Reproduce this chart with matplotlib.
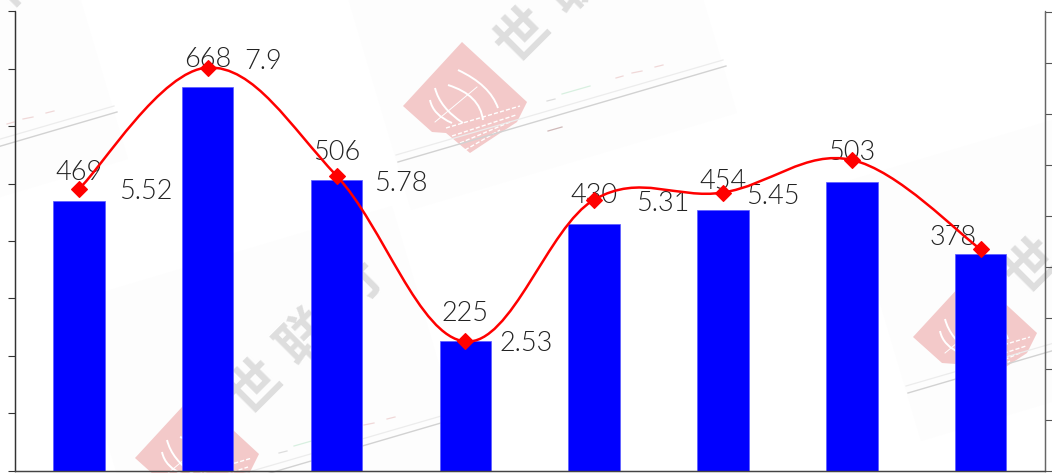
import numpy as np
import matplotlib
matplotlib.use("Agg")
import matplotlib.pyplot as plt
from matplotlib.path import Path
from matplotlib.patches import PathPatch, Polygon

plt.rcParams['font.family'] = ['Noto Sans CJK SC', 'DejaVu Sans']
LABEL_FONT = ['Lato', 'DejaVu Sans']

# values
bar_values = [469, 668, 506, 225, 430, 454, 503, 378]
line_values = [5.52, 7.9, 5.78, 2.53, 5.31, 5.45, 6.09, 4.34]
line_labels = ['5.52', '7.9', '5.78', '2.53', '5.31', '5.45', None, None]

# label offsets in pixels
bar_label_dx = [0, 0, 0, 0, 0, 0, 0, -27]
bar_label_dy = [29, 28, 28, 28, 28, 29, 29, 16]
line_label_dx = [67, 55, 64, 61, 69, 50, 0, 0]
line_label_dy = [-3, 6, -8, -2, -4, -4, 0, 0]

TEXT = '#222222'


def smooth_path(xs, ys, k=0.18):
    # bezier through the points, tangent taken from the neighbours
    xs = np.asarray(xs, float)
    ys = np.asarray(ys, float)
    n = len(xs)
    verts = [(xs[0], ys[0])]
    codes = [Path.MOVETO]
    for i in range(n - 1):
        a = max(i - 1, 0)
        b = min(i + 2, n - 1)
        c1 = (xs[i] + k * (xs[i + 1] - xs[a]), ys[i] + k * (ys[i + 1] - ys[a]))
        c2 = (xs[i + 1] - k * (xs[b] - xs[i]), ys[i + 1] - k * (ys[b] - ys[i]))
        verts += [c1, c2, (xs[i + 1], ys[i + 1])]
        codes += [Path.CURVE4] * 3
    return Path(verts, codes)


def watermark(bg, dx, dy):
    # one rotated logo tile, in pixels of the image
    def p(pts):
        return [(x + dx, y + dy) for x, y in pts]

    bg.add_patch(Polygon(p([(737, 113), (411, 210), (334, -49), (660, -146)]),
                         fc='#fdfdfd', ec='none', zorder=1))
    bg.add_patch(Polygon(p([(462, 42), (527, 102), (517, 122), (470, 153),
                            (446, 133), (432, 132), (403, 106)]),
                         fc='#f3c9c9', ec='none', zorder=2))
    # globe in the logo
    for a0, c, a1 in [((458, 70), (490, 85), (498, 108)), ((448, 85), (480, 95), (483, 120)),
                      ((435, 88), (440, 108), (463, 123)), ((430, 100), (433, 115), (452, 123))]:
        arc = Path(p([a0, c, a1]), [Path.MOVETO, Path.CURVE3, Path.CURVE3])
        bg.add_patch(PathPatch(arc, fc='none', ec='white', lw=1.4, zorder=3))
    bg.plot([435 + dx, 477 + dx], [122 + dy, 87 + dy], color='white', lw=0.7, zorder=3)
    # torn part of the logo
    for x0, y0, x1, y1 in [(446, 128, 520, 106), (452, 136, 516, 115), (460, 143, 510, 122),
                           (465, 150, 500, 130)]:
        bg.plot([x0 + dx, x1 + dx], [y0 + dy, y1 + dy], color='white', lw=1.0,
                ls=(0, (3, 1.5)), zorder=3)
    bg.plot([396 + dx, 723 + dx], [155 + dy, 60 + dy], color='#ececec', lw=0.9, zorder=4)
    bg.plot([398 + dx, 726 + dx], [162 + dy, 66 + dy], color='#d2d2d2', lw=1.0, zorder=4)
    for x0, y0, x1, y1, c in [(547, 101, 555, 99, '#dddddd'), (562, 94, 590, 86, '#d8f0e0'),
                              (616, 78, 623, 76, '#f0d8d8'), (632, 73, 642, 71, '#f0d8d8'),
                              (655, 67, 663, 65, '#f0d8d8'), (548, 131, 562, 127, '#cfb8b8')]:
        bg.plot([x0 + dx, x1 + dx], [y0 + dy, y1 + dy], color=c, lw=0.9, zorder=4)
    for i, ch in enumerate('世联行'):
        cx, cy = 523 + dx + 50 * i, 35 + dy - 50 * i
        if cx < -25 or cx > 1077 or cy < -25 or cy > 498:
            continue
        bg.text(cx, cy, ch, fontsize=38, fontweight='bold', color='#dedede', rotation=45,
                ha='center', va='center', rotation_mode='anchor', zorder=4, clip_on=True)


fig = plt.figure(figsize=(10.52, 4.73), dpi=100, facecolor='white')

bg = fig.add_axes([0, 0, 1, 1], zorder=0)
bg.set_xlim(0, 1052)
bg.set_ylim(473, 0)
bg.axis('off')
for dx, dy in [(0, 0), (-268, 352), (510, 231), (-609, 46)]:
    watermark(bg, dx, dy)

ax = fig.add_axes([14.5 / 1052, 2.5 / 473, 1030.5 / 1052, 459 / 473], zorder=1)
ax.patch.set_alpha(0)
ax2 = ax.twinx()
ax2.set_zorder(2)
ax2.patch.set_alpha(0)

x = np.arange(len(bar_values))
ax.bar(x, bar_values, width=0.4, color='#0000ff', edgecolor='#5a5aff', linewidth=0.5)
ax.set_xlim(-0.5, len(x) - 0.5)
ax.set_ylim(0, 800)
ax.set_yticks(np.arange(0, 801, 100))
ax.set_xticks([])
ax.tick_params(axis='y', length=5.4, width=0.8, color='#333333', labelleft=False)

ax2.set_ylim(0, 9)
ax2.set_yticks(np.arange(0, 10))
ax2.tick_params(axis='y', length=5, width=0.8, color='#555555', labelright=False)

for a in (ax, ax2):
    a.spines['top'].set_visible(False)
    a.spines['left'].set_linewidth(0.9)
    a.spines['left'].set_color('#333333')
    a.spines['right'].set_linewidth(0.9)
    a.spines['right'].set_color('#666666')
    a.spines['bottom'].set_linewidth(0.9)
    a.spines['bottom'].set_color('#444444')

for i, v in enumerate(bar_values):
    ax.annotate(str(v), (x[i], v), xytext=(bar_label_dx[i], bar_label_dy[i]),
                textcoords='offset pixels', ha='center', va='center', family=LABEL_FONT,
                fontsize=19.5, fontweight=300, color=TEXT)

for i, lab in enumerate(line_labels):
    if lab is None:
        continue
    ax2.annotate(lab, (x[i], line_values[i]), xytext=(line_label_dx[i], line_label_dy[i]),
                 textcoords='offset pixels', ha='center', va='center', family=LABEL_FONT,
                 fontsize=19.5, fontweight=300, color=TEXT, zorder=3)

ax2.add_patch(PathPatch(smooth_path(x, line_values), fc='none', ec='#ff0000', lw=1.8, zorder=5))
ax2.plot(x, line_values, ls='none', marker='D', ms=8.4, mfc='#ff0000', mec='#ff0000', mew=0.8, zorder=6)

fig.savefig('out.png', dpi=100)
